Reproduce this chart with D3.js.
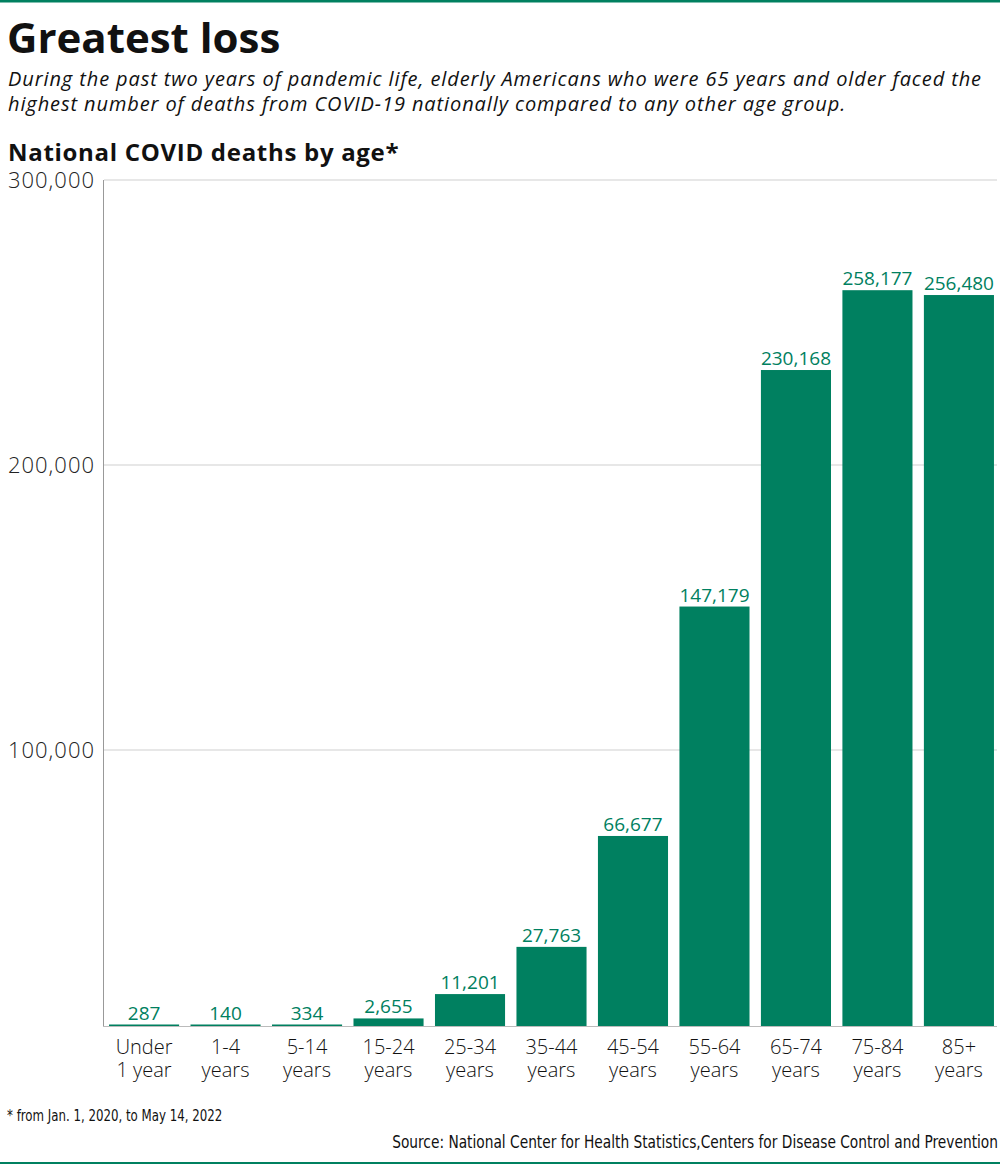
<!DOCTYPE html>
<html>
<head>
<meta charset="utf-8">
<script src="https://cdn.jsdelivr.net/npm/d3@7"></script>
<style>
  body { margin: 0; background: #fff; }
  svg { display: block; font-family: "Open Sans", sans-serif; }
</style>
</head>
<body>
<svg id="chart" width="1000" height="1165"></svg>
<script>
// age groups (two line labels) and deaths
const ageLine1 = ["Under", "1-4", "5-14", "15-24", "25-34", "35-44", "45-54", "55-64", "65-74", "75-84", "85+"];
const ageLine2 = ["1 year", "years", "years", "years", "years", "years", "years", "years", "years", "years", "years"];
const deaths = [287, 140, 334, 2655, 11201, 27763, 66677, 147179, 230168, 258177, 256480];
const yTicks = [100000, 200000, 300000];

const green = "#008060";
const svg = d3.select("#chart");

// top and bottom rules
svg.append("rect").attr("x", 0).attr("y", 0).attr("width", 1000).attr("height", 2.5).attr("fill", green);
svg.append("rect").attr("x", 0).attr("y", 1162).attr("width", 1000).attr("height", 2).attr("fill", green);

// headings
svg.append("text").attr("x", 7).attr("y", 53)
  .attr("font-size", 42).attr("font-weight", 700).attr("fill", "#111")
  .text("Greatest loss");

const sub = [
  "During the past two years of pandemic life, elderly Americans who were 65 years and older faced the",
  "highest number of deaths from COVID-19 nationally compared to any other age group."
];
svg.append("g").selectAll("text").data(sub).join("text")
  .attr("x", 8).attr("y", (d, i) => 86 + i * 25)
  .attr("font-size", 20).attr("font-style", "italic").attr("letter-spacing", 0.9).attr("fill", "#111")
  .text(d => d);

svg.append("text").attr("x", 8).attr("y", 161)
  .attr("font-size", 24).attr("font-weight", 700).attr("letter-spacing", 0.7).attr("fill", "#111")
  .text("National COVID deaths by age*");

// scales
const x = d3.scaleBand().domain(ageLine1).range([103, 1000]).paddingInner(0.14).paddingOuter(0.074);
const y = d3.scaleLinear().domain([0, 300000]).range([1026, 171]);

// gridlines + tick labels (sit slightly below the bar scale in the original)
const grid = svg.append("g").attr("transform", "translate(0,9)");
grid.selectAll("line").data(yTicks).join("line")
  .attr("x1", 104).attr("x2", 997)
  .attr("y1", d => y(d)).attr("y2", d => y(d))
  .attr("stroke", "#cfcfcf").attr("stroke-width", 1);
grid.selectAll("text").data(yTicks).join("text")
  .attr("x", 95).attr("y", d => y(d)).attr("dy", "0.36em")
  .attr("text-anchor", "end").attr("font-size", 22).attr("font-weight", 300)
  .attr("letter-spacing", 1).attr("fill", "#222")
  .text(d => d3.format(",")(d));

// y axis line
svg.append("line").attr("x1", 103.5).attr("x2", 103.5)
  .attr("y1", y(300000) + 9).attr("y2", y(0))
  .attr("stroke", "#999").attr("stroke-width", 1);

// bars
svg.append("g").selectAll("rect").data(deaths).join("rect")
  .attr("x", (d, i) => x(ageLine1[i]))
  .attr("width", x.bandwidth())
  .attr("y", d => Math.min(y(d), y(0) - 1.5))
  .attr("height", d => Math.max(y(0) - y(d), 1.5))
  .attr("fill", green);

// baseline
svg.append("line").attr("x1", 103).attr("x2", 997)
  .attr("y1", y(0) + 0.5).attr("y2", y(0) + 0.5)
  .attr("stroke", "#bbb").attr("stroke-width", 1);

// value labels
svg.append("g").selectAll("text").data(deaths).join("text")
  .attr("x", (d, i) => x(ageLine1[i]) + x.bandwidth() / 2)
  .attr("y", d => Math.min(y(d), y(0) - 1.5) - 5)
  .attr("text-anchor", "middle").attr("font-size", 19).attr("fill", green)
  .text(d => d3.format(",")(d));

// category labels, two lines each
const cat = svg.append("g").selectAll("text").data(ageLine1).join("text")
  .attr("text-anchor", "middle").attr("font-size", 20).attr("font-weight", 300).attr("fill", "#111");
cat.append("tspan")
  .attr("x", d => x(d) + x.bandwidth() / 2).attr("y", 1054)
  .text(d => d);
cat.append("tspan")
  .attr("x", d => x(d) + x.bandwidth() / 2).attr("y", 1077)
  .text((d, i) => ageLine2[i]);

// notes (condensed face)
svg.append("text").attr("transform", "translate(7,1121) scale(0.82,1)")
  .attr("font-family", "'Liberation Sans Narrow', 'DejaVu Sans Condensed', sans-serif")
  .attr("font-size", 16).attr("fill", "#111")
  .text("* from Jan. 1, 2020, to May 14, 2022");
svg.append("text").attr("transform", "translate(998,1148) scale(0.9,1)")
  .attr("text-anchor", "end")
  .attr("font-family", "'Liberation Sans Narrow', 'DejaVu Sans Condensed', sans-serif")
  .attr("font-size", 17).attr("fill", "#111")
  .text("Source: National Center for Health Statistics,Centers for Disease Control and Prevention");
</script>
</body>
</html>
